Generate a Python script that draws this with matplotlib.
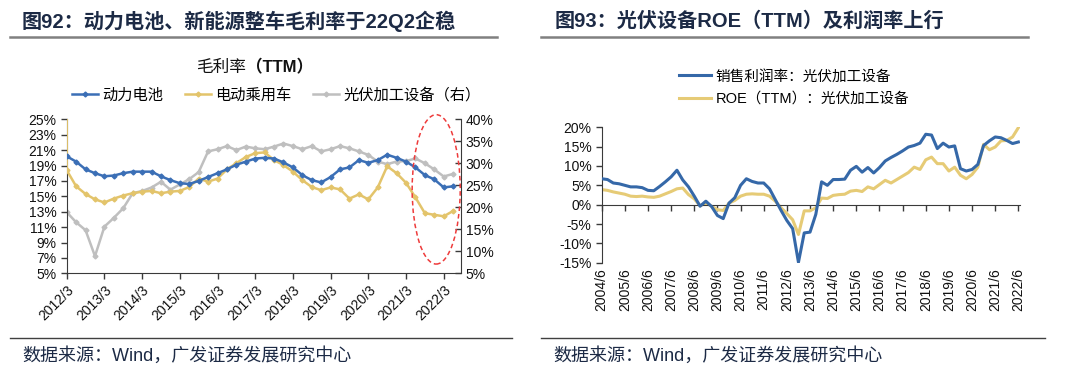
import numpy as np
import matplotlib
matplotlib.use('Agg')
import matplotlib.pyplot as plt
from matplotlib.patches import Ellipse
from matplotlib.ticker import FuncFormatter

plt.rcParams['font.family'] = ['Liberation Sans', 'Noto Sans CJK SC']
plt.rcParams['axes.unicode_minus'] = False

# ---- left chart data: quarterly, 2012/3 .. 2022/6 ----
left_years = ['2012/3', '2013/3', '2014/3', '2015/3', '2016/3', '2017/3',
              '2018/3', '2019/3', '2020/3', '2021/3', '2022/3']
battery = [20.2, 19.5, 18.5, 18.0, 17.6, 17.7, 18.0, 18.2, 18.2, 18.2, 17.6,
           17.1, 16.7, 16.6, 17.0, 17.5, 18.0, 18.5, 19.1, 19.5, 19.9, 20.0,
           19.9, 19.4, 18.75, 17.75, 17.1, 16.8, 17.5, 18.5, 18.75, 19.7,
           19.35, 19.7, 20.4, 20.0, 19.5, 18.75, 17.75, 17.2, 16.15, 16.3]
ev_car = [18.4, 16.3, 15.3, 14.6, 14.2, 14.7, 15.1, 15.4, 15.6, 15.7, 15.4,
          15.6, 15.7, 16.2, 17.3, 16.9, 17.3, 18.5, 19.3, 20.1, 20.6, 20.7,
          19.7, 19.05, 18.2, 17.1, 16.2, 15.8, 16.15, 15.9, 14.7, 15.25,
          14.6, 16.15, 18.9, 18.0, 16.75, 14.85, 12.8, 12.6, 12.4, 13.1]
ev_car_start = 26.0   # first reading runs off the top of the scale
pv_equip = [18.9, 16.6, 14.8, 8.9, 15.6, 17.6, 19.8, 23.2, 23.7, 24.5, 25.8,
            24.0, 25.2, 26.4, 28.0, 32.7, 33.2, 33.9, 33.0, 33.8, 33.4, 33.2,
            33.8, 34.5, 33.9, 33.2, 33.9, 32.7, 33.2, 33.9, 33.4, 32.7, 31.9,
            30.4, 29.8, 30.4, 30.5, 31.1, 30.0, 28.6, 27.0, 27.6]

# ---- right chart data: quarterly, 2004/6 .. 2022/6 ----
right_years = ['2004/6', '2005/6', '2006/6', '2007/6', '2008/6', '2009/6',
               '2010/6', '2011/6', '2012/6', '2013/6', '2014/6', '2015/6',
               '2016/6', '2017/6', '2018/6', '2019/6', '2020/6', '2021/6',
               '2022/6']
net_margin = [6.7, 6.5, 5.6, 5.4, 5.0, 4.6, 4.6, 4.4, 3.7, 3.6, 4.7, 5.9,
              7.2, 8.9, 6.4, 4.6, 2.2, -0.4, 0.9, -0.5, -2.8, -3.6, 0.4, 1.8,
              5.0, 6.7, 6.0, 5.6, 5.6, 4.1, 1.3, -1.5, -4.1, -6.2, -14.9,
              -7.3, -7.1, -2.5, 5.9, 5.0, 6.5, 6.5, 6.6, 8.9, 9.9, 8.4, 9.6,
              8.2, 9.6, 11.3, 12.2, 13.0, 13.9, 14.9, 15.3, 15.9, 18.2, 18.0,
              14.5, 15.9, 14.9, 15.2, 9.3, 8.7, 9.1, 10.4, 15.3, 16.5, 17.5,
              17.3, 16.6, 15.8, 16.2]
roe_ttm = [3.9, 3.7, 3.3, 3.0, 2.7, 2.2, 2.1, 2.2, 2.0, 1.9, 2.2, 2.8, 3.4,
           4.1, 4.3, 2.6, 1.5, -0.3, 0.4, -0.4, -1.3, -1.5, 0.4, 1.1, 2.2,
           2.7, 2.8, 2.7, 2.7, 2.2, 0.9, -0.8, -2.3, -3.9, -7.7, -1.6, -1.6,
           -0.8, 1.7, 1.6, 2.4, 2.6, 2.7, 3.5, 3.7, 3.4, 4.6, 4.1, 5.2, 6.3,
           5.6, 6.5, 7.4, 8.3, 9.7, 9.1, 11.6, 12.3, 10.6, 10.6, 8.7, 9.7,
           7.6, 6.7, 7.8, 9.7, 15.6, 14.2, 14.9, 16.5, 16.6, 17.5, 19.9]

BLUE_L = '#3b6fb6'
YELLOW_L = '#e3c46b'
GRAY_L = '#bfbfbf'
BLUE_R = '#3568a8'
YELLOW_R = '#e6cb76'
NAVY = '#1c2a45'
AX = '#3a3a3a'
TICK_FS = 10

pct = FuncFormatter(lambda v, p: '%d%%' % v)

fig = plt.figure(figsize=(10.8, 3.81), dpi=100)

# headers and footers
fig.text(22 / 1080, 1 - 21 / 381, '图92：动力电池、新能源整车毛利率于22Q2企稳',
         fontsize=14.5, fontweight='bold', color=NAVY, va='center', ha='left')
fig.text(555 / 1080, 1 - 21 / 381, '图93：光伏设备ROE（TTM）及利润率上行',
         fontsize=14.5, fontweight='bold', color=NAVY, va='center', ha='left')
for x0, x1 in [(10, 497), (541, 1028)]:
    fig.add_artist(plt.Line2D([x0 / 1080, x1 / 1080], [1 - 37 / 381] * 2,
                              color='#808080', lw=1.8))
for x0, x1 in [(10, 512), (541, 1045)]:
    fig.add_artist(plt.Line2D([x0 / 1080, x1 / 1080], [1 - 338 / 381] * 2,
                              color='#404040', lw=1.0))
fig.text(22 / 1080, 1 - 356 / 381, '数据来源：Wind，广发证券发展研究中心',
         fontsize=13, color=NAVY, va='center', ha='left')
fig.text(553 / 1080, 1 - 356 / 381, '数据来源：Wind，广发证券发展研究中心',
         fontsize=13, color=NAVY, va='center', ha='left')

# ---------------- left chart ----------------
ax1 = fig.add_axes([66.7 / 1080, 1 - 273.3 / 381, (460.7 - 66.7) / 1080,
                    (273.3 - 119.3) / 381])
q_left = np.arange(len(battery))
ax1.plot(q_left, battery, color=BLUE_L, lw=1.8, marker='D', ms=2.5,
         label='动力电池', zorder=4)
ax1.plot(np.r_[0, q_left], [ev_car_start] + ev_car, color=YELLOW_L, lw=1.8,
         marker='D', ms=2.5, label='电动乘用车', zorder=3)
ax1.set_xlim(0, 41.8)
ax1.set_ylim(5, 25)
ax1.set_yticks(np.arange(5, 26, 2))
ax1.yaxis.set_major_formatter(pct)
ax1.set_xticks(np.arange(0, len(battery), 4))
ax1.set_xticklabels(left_years, rotation=45, ha='right',
                    rotation_mode='anchor')
ax1.tick_params(axis='both', labelsize=TICK_FS, colors='#111111', length=4,
                width=1, color=AX)
ax1.tick_params(axis='x', pad=3)
for s in ['top', 'right']:
    ax1.spines[s].set_visible(False)
for s in ['left', 'bottom']:
    ax1.spines[s].set_color(AX)

ax2 = ax1.twinx()
ax2.plot(q_left, pv_equip, color=GRAY_L, lw=1.8, marker='D', ms=2.5,
         label='光伏加工设备（右）', zorder=2)
ax2.set_ylim(5, 40)
ax2.set_yticks(np.arange(5, 41, 5))
ax2.yaxis.set_major_formatter(pct)
ax2.tick_params(axis='y', labelsize=TICK_FS, colors='#111111',
                direction='in', length=4, width=1, color=AX)
for s in ['top', 'left', 'bottom']:
    ax2.spines[s].set_visible(False)
ax2.spines['right'].set_color(AX)
ax1.set_zorder(ax2.get_zorder() + 1)
ax1.patch.set_visible(False)

ax1.add_patch(Ellipse((39.2, 15.9), 5.1, 19.4, fill=False, ls=(0, (3, 2)),
                      ec='#ee3b3b', lw=1.1, clip_on=False, zorder=6))

fig.text(246 / 1080, 1 - 67 / 381, '毛利率', fontsize=12, color='#111111',
         ha='right', va='center')
fig.text(246 / 1080, 1 - 67 / 381, '（TTM）', fontsize=12, color='#111111',
         ha='left', va='center', fontweight='bold')
h1, l1 = ax1.get_legend_handles_labels()
h2, l2 = ax2.get_legend_handles_labels()
fig.legend(h1 + h2, l1 + l2, loc='center left', ncol=3, frameon=False,
           bbox_to_anchor=(64 / 1080, 1 - 95 / 381), fontsize=11,
           handlelength=1.7, handletextpad=0.3, columnspacing=1.4,
           borderpad=0)

# ---------------- right chart ----------------
ax3 = fig.add_axes([601.7 / 1080, 1 - 262.7 / 381, (1019.5 - 601.7) / 1080,
                    (262.7 - 127.3) / 381])
q_right = np.arange(len(net_margin))
ax3.plot(q_right, net_margin, color=BLUE_R, lw=2.2,
         label='销售利润率：光伏加工设备', zorder=3)
ax3.plot(q_right, roe_ttm, color=YELLOW_R, lw=2.2,
         label='ROE（TTM）：光伏加工设备', zorder=2)
ax3.set_xlim(0, 72.2)
ax3.set_ylim(-15, 20)
ax3.set_yticks(np.arange(-15, 21, 5))
ax3.yaxis.set_major_formatter(pct)
ax3.set_xticks(np.arange(0, len(net_margin), 4))
ax3.tick_params(axis='x', labelbottom=False, direction='out', length=4,
                width=1, color=AX)
ax3.tick_params(axis='y', labelsize=TICK_FS, colors='#111111', length=4,
                width=1, color=AX)
ax3.spines['bottom'].set_position(('data', 0))
ax3.spines['bottom'].set_color(AX)
ax3.spines['left'].set_color(AX)
for s in ['top', 'right']:
    ax3.spines[s].set_visible(False)
sec = ax3.secondary_xaxis(0)
sec.set_xticks(np.arange(0, len(net_margin), 4))
sec.set_xticklabels(right_years, rotation=90, va='top', ha='center')
sec.tick_params(length=0, labelsize=TICK_FS, colors='#111111', pad=4)
sec.spines['bottom'].set_visible(False)

h3, l3 = ax3.get_legend_handles_labels()
fig.legend(h3, l3, loc='upper left', frameon=False,
           bbox_to_anchor=(672 / 1080, 1 - 62 / 381), fontsize=10.5,
           handlelength=2.2, handletextpad=0.3, labelspacing=0.6,
           borderpad=0)

fig.savefig('out.png', dpi=100)
